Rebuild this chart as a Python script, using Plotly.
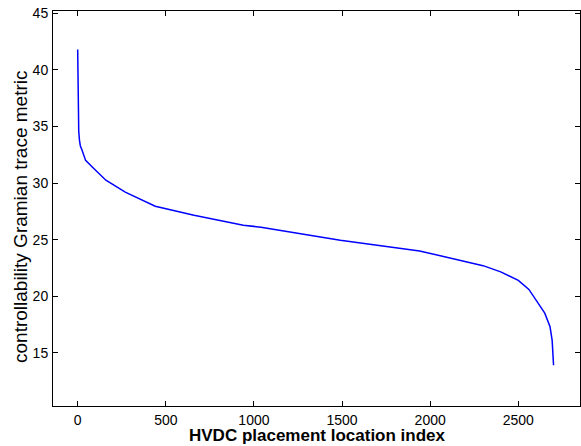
import plotly.graph_objects as go

# Values (sorted metric vs placement index)
location_index = [0, 1, 3, 6, 10, 15, 25, 45, 90, 160, 270, 440, 660, 940, 1040,
                  1490, 1940, 2050, 2170, 2300, 2400, 2500, 2560, 2600, 2650,
                  2680, 2692, 2700]
gramian_metric = [41.8, 38.0, 35.6, 34.6, 33.8, 33.3, 32.9, 32.0, 31.3, 30.25,
                  29.2, 27.95, 27.15, 26.27, 26.1, 24.95, 24.0, 23.6, 23.2, 22.7,
                  22.15, 21.4, 20.6, 19.7, 18.5, 17.3, 16.1, 13.9]

x_ticks = [0, 500, 1000, 1500, 2000, 2500]
y_ticks = [15, 20, 25, 30, 35, 40, 45]

x_title = "HVDC placement location index"
y_title = "controllability Gramian trace metric"

fig = go.Figure(go.Scatter(x=location_index, y=gramian_metric, mode="lines",
                           line=dict(color="#0000FF", width=1.5)))

font = "Liberation Sans, Arial, Helvetica, sans-serif"
fig.update_layout(
    width=581, height=446,
    margin=dict(l=53, r=1, t=11, b=40, autoexpand=False),
    paper_bgcolor="white", plot_bgcolor="white",
    showlegend=False,
    font=dict(family=font, size=14, color="black"),
    annotations=[
        dict(text="<b>" + x_title + "</b>", xref="paper", yref="paper",
             x=0.501, y=-0.1013, xanchor="center", yanchor="bottom",
             showarrow=False, borderpad=0, font=dict(size=17)),
        dict(text=y_title, xref="paper", yref="paper", textangle=-90,
             x=-0.063, y=0.478, xanchor="center", yanchor="middle",
             showarrow=False, borderpad=0, font=dict(size=19)),
    ],
)
common = dict(ticks="inside", ticklen=5, tickcolor="black", showline=True,
              linecolor="black", linewidth=1, mirror="ticks", showgrid=False,
              zeroline=False, tickfont=dict(size=14), ticklabelstandoff=1,
              automargin=False)
fig.update_xaxes(range=[-140, 2850], tickvals=x_ticks, **common)
fig.update_yaxes(range=[10.3, 45.2], tickvals=y_ticks, **common)

fig.write_html("out.html", config={"displayModeBar": False},
               post_script="document.body.style.margin='0px';"
                           "document.body.style.overflow='hidden';")
